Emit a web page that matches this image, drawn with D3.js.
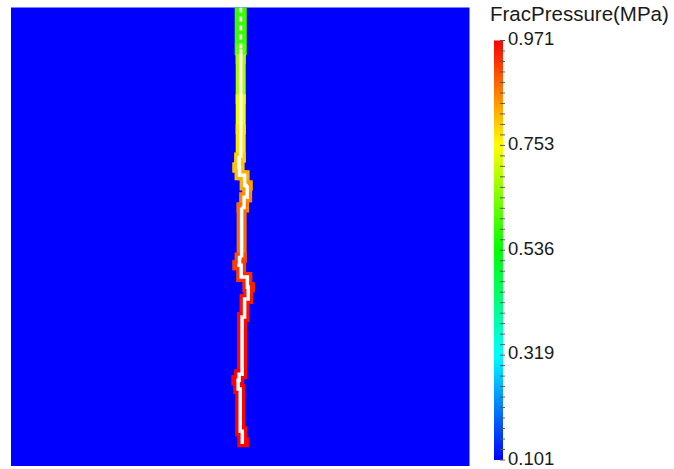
<!DOCTYPE html>
<html>
<head>
<meta charset="utf-8">
<script src="https://cdn.jsdelivr.net/npm/d3@7"></script>
<style>
  body { margin: 0; background: #fff; }
  svg { display: block; font-family: "Liberation Sans", Arial, sans-serif; }
</style>
</head>
<body>
<svg width="674" height="469"></svg>
<script>
// pressure range and colourbar labels
const pMin = 0.101;
const pMax = 0.971;
const tickLabels = [0.971, 0.753, 0.536, 0.319, 0.101];

// fracture centreline (domain units 0..1 across the square) and pressure
const crackX = [0.501, 0.501, 0.501, 0.501, 0.501, 0.501, 0.494, 0.503, 0.516, 0.514, 0.503, 0.503, 0.494, 0.510, 0.521, 0.514, 0.505, 0.503, 0.492, 0.499, 0.501, 0.508];
const crackY = [1.000, 0.909, 0.887, 0.800, 0.734, 0.673, 0.651, 0.634, 0.612, 0.586, 0.564, 0.455, 0.438, 0.412, 0.390, 0.364, 0.325, 0.200, 0.187, 0.168, 0.076, 0.052];
const crackP = [0.57, 0.60, 0.64, 0.72, 0.76, 0.79, 0.80, 0.81, 0.83, 0.85, 0.86, 0.90, 0.91, 0.93, 0.94, 0.95, 0.96, 0.97, 0.97, 0.97, 0.97, 0.97];

const svg = d3.select('svg');

const box = { left: 11, top: 7.5, size: 458.5 };
const x = d3.scaleLinear().domain([0, 1]).range([box.left, box.left + box.size]);
const y = d3.scaleLinear().domain([0, 1]).range([box.top + box.size, box.top]);

// blue-to-red rainbow (hsv hue 240 -> 0)
const hue = d3.scaleLinear().domain([pMin, pMax]).range([240, 0]);
const color = p => d3.hsl(hue(p), 1, 0.5).toString();

const defs = svg.append('defs');
defs.append('clipPath').attr('id', 'box')
  .append('rect')
  .attr('x', box.left)
  .attr('y', box.top)
  .attr('width', box.size)
  .attr('height', box.size);

svg.append('rect')
  .attr('x', box.left)
  .attr('y', box.top)
  .attr('width', box.size)
  .attr('height', box.size)
  .attr('fill', color(pMin));

const pts = crackX.map((d, i) => ({ x: x(d), y: y(crackY[i]), p: crackP[i] }));
const segs = pts.slice(1).map((d, i) => [pts[i], d]);

const line = d3.line().x(d => d.x).y(d => d.y).curve(d3.curveStep);

const crack = svg.append('g').attr('clip-path', 'url(#box)');
crack.selectAll('.outer')
  .data(segs)
  .enter().append('path')
  .attr('class', 'outer')
  .attr('d', line)
  .attr('fill', 'none')
  .attr('stroke', d => color((d[0].p + d[1].p) / 2))
  .attr('stroke-width', (d, i) => i === 0 ? 12 : 10)
  .attr('stroke-linecap', 'square');

crack.selectAll('.inner')
  .data(segs)
  .enter().append('path')
  .attr('class', 'inner')
  .attr('d', line)
  .attr('fill', 'none')
  .attr('stroke', '#fff')
  .attr('stroke-width', (d, i) => i === 0 ? 3 : 3.5)
  .attr('stroke-dasharray', (d, i) => i === 0 ? '5 4' : null)
  .attr('stroke-linecap', 'butt');

// colour bar
const bar = { x: 494, y: 40.5, w: 9, h: 419.5 };
const by = d3.scaleLinear().domain([pMin, pMax]).range([bar.y + bar.h, bar.y]);

const grad = defs.append('linearGradient')
  .attr('id', 'cb')
  .attr('x1', 0).attr('y1', 1).attr('x2', 0).attr('y2', 0);
grad.selectAll('stop')
  .data(d3.range(0, 1.0001, 0.05))
  .enter().append('stop')
  .attr('offset', d => d)
  .attr('stop-color', d => color(pMin + d * (pMax - pMin)));

svg.append('rect')
  .attr('x', bar.x)
  .attr('y', bar.y)
  .attr('width', bar.w)
  .attr('height', bar.h)
  .attr('fill', 'url(#cb)');

svg.append('g')
  .selectAll('line')
  .data(d3.range(0, 41))
  .enter().append('line')
  .attr('x1', bar.x + 6)
  .attr('x2', bar.x + 11)
  .attr('y1', d => bar.y + d * bar.h / 40)
  .attr('y2', d => bar.y + d * bar.h / 40)
  .attr('stroke', '#555')
  .attr('stroke-width', 1);

svg.append('g')
  .selectAll('text')
  .data(tickLabels)
  .enter().append('text')
  .attr('x', 508)
  .attr('y', d => by(d) + 4.5)
  .attr('font-size', 18.5)
  .attr('fill', '#1a1a1a')
  .text(d => d3.format('.3f')(d));

svg.append('text')
  .attr('x', 490)
  .attr('y', 21)
  .attr('font-size', 20.5)
  .attr('fill', '#1a1a1a')
  .text('FracPressure(MPa)');
</script>
</body>
</html>
